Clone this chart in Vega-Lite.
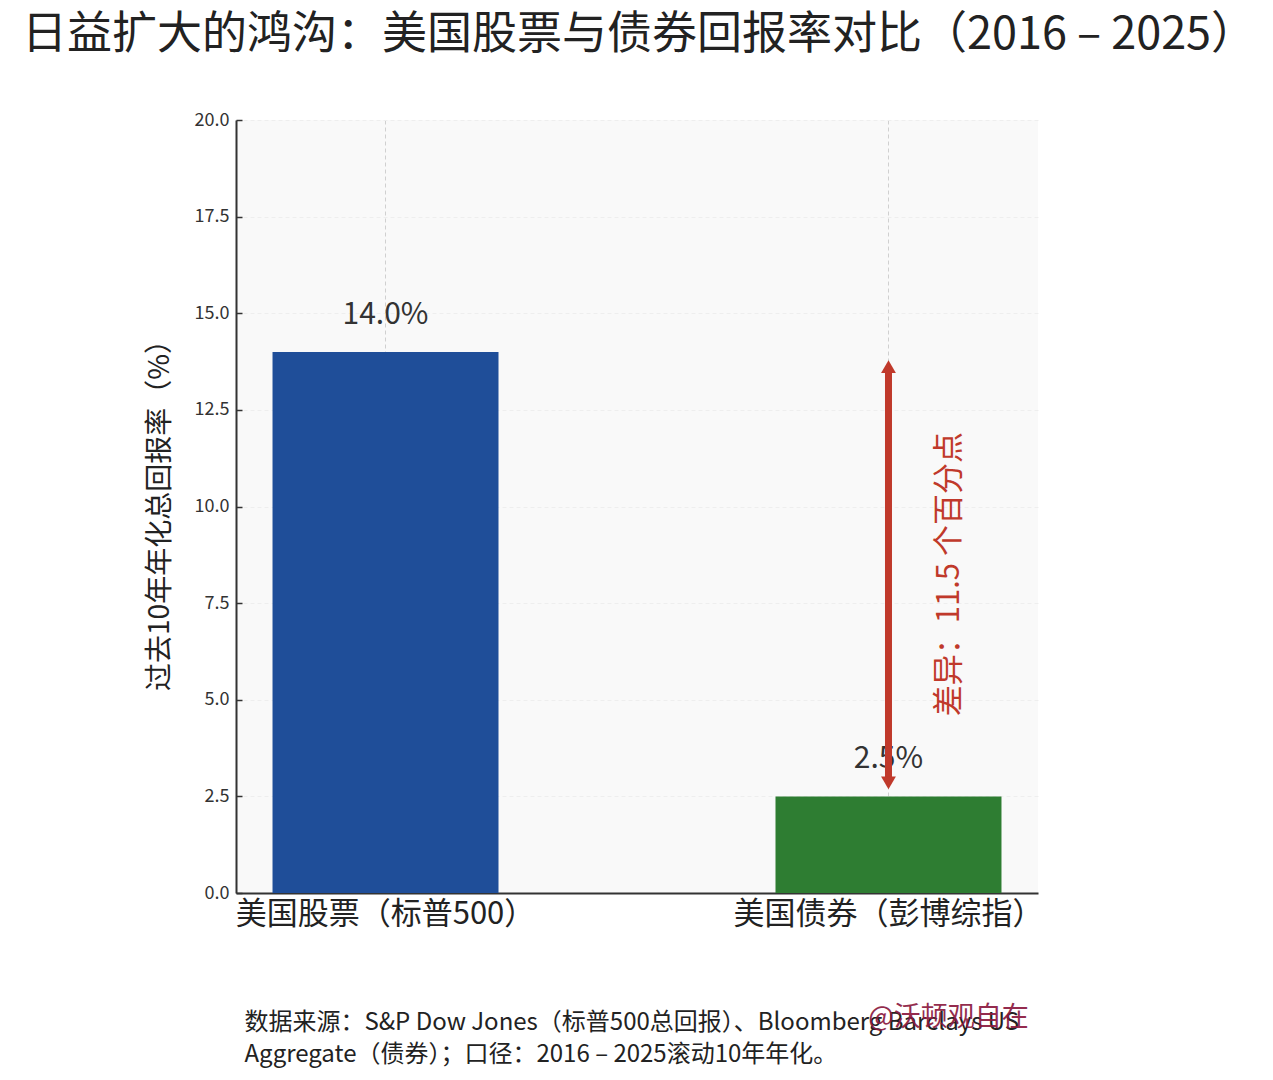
{
"$schema":"https://vega.github.io/schema/vega-lite/v6.json",
"width":802,"height":773,
"autosize":{"type":"none"},
"padding":{"left":236,"top":120,"right":235,"bottom":187},
"background":"#ffffff",
"view":{"fill":"#f9f9f9","stroke":null},
"config":{"font":"Noto Sans CJK SC"},
"title":{"text":"日益扩大的鸿沟：美国股票与债券回报率对比（2016 – 2025）","font":"Noto Sans CJK SC","fontSize":45,"fontWeight":"normal","color":"#222222","anchor":"start","frame":"group","dx":-214,"offset":53},
"datasets":{
"bars":[{"category":"美国股票（标普500）","value":14.0,"label":"14.0%"},{"category":"美国债券（彭博综指）","value":2.5,"label":"2.5%"}],
"arrow":[{"category":"美国债券（彭博综指）","start":13.5,"end":2.95}],
"heads":[{"category":"美国债券（彭博综指）","at":13.62,"dir":"up"},{"category":"美国债券（彭博综指）","at":2.85,"dir":"down"}],
"diff":[{"category":"美国债券（彭博综指）","at":8.25,"label":"差异：11.5 个百分点"}],
"mark":[{"category":"美国债券（彭博综指）","at":-3.23,"label":"@沃顿观自在"}]
},
"layer":[
{"data":{"name":"bars"},
 "mark":{"type":"bar"},
 "encoding":{
  "x":{"field":"category","type":"nominal","sort":null,
    "scale":{"domain":["美国股票（标普500）","美国债券（彭博综指）"],"paddingInner":0.5507,"paddingOuter":0.0726},
    "axis":{"title":["数据来源：S&P Dow Jones（标普500总回报）、Bloomberg Barclays US","Aggregate（债券）；口径：2016 – 2025滚动10年年化。"],
      "titleFont":"Noto Sans CJK SC","titleFontSize":24,"titleFontWeight":"normal","titleColor":"#222222","titleAlign":"left","titleAnchor":"start","titleBaseline":"middle","titleLineHeight":32,"titleX":8,"titleY":129,
      "labelAngle":0,"labelFontSize":31,"labelColor":"#222222","labelPadding":6,"labelOffset":0,"labelLimit":400,"ticks":false,
      "domainColor":"#333333","domainWidth":2,
      "grid":true,"gridColor":"#d0d0d0","gridDash":[4,3],"gridWidth":1}},
  "y":{"field":"value","type":"quantitative",
    "scale":{"domain":[0,20],"nice":false,"zero":true},
    "axis":{"title":"过去10年年化总回报率（%）","titleFontSize":28,"titleFontWeight":"normal","titleColor":"#222222","titleX":-62,"titleY":388,
      "values":[0,2.5,5,7.5,10,12.5,15,17.5,20],"format":".1f","labelFontSize":18,"labelColor":"#333333","labelPadding":13,
      "domainColor":"#333333","domainWidth":2,"tickColor":"#333333","tickSize":-6,"tickWidth":1.5,
      "grid":true,"gridColor":"#eeeeee","gridDash":[4,3],"gridWidth":1}},
  "color":{"field":"category","type":"nominal","legend":null,"scale":{"domain":["美国股票（标普500）","美国债券（彭博综指）"],"range":["#1f4e99","#2e7d32"]}}
 }},
{"data":{"name":"bars"},
 "mark":{"type":"text","baseline":"bottom","dy":-22,"fontSize":30,"color":"#333333"},
 "encoding":{"x":{"field":"category","type":"nominal"},"y":{"field":"value","type":"quantitative"},"text":{"field":"label"}}},
{"data":{"name":"arrow"},
 "mark":{"type":"rule","color":"#c0392b","strokeWidth":7},
 "encoding":{"x":{"field":"category","type":"nominal"},"y":{"field":"start","type":"quantitative"},"y2":{"field":"end"}}},
{"data":{"name":"heads"},
 "mark":{"type":"point","filled":true,"size":220,"opacity":1,"color":"#c0392b"},
 "encoding":{"x":{"field":"category","type":"nominal"},"y":{"field":"at","type":"quantitative"},
  "shape":{"field":"dir","type":"nominal","legend":null,"scale":{"domain":["up","down"],"range":["triangle-up","triangle-down"]}}}},
{"data":{"name":"diff"},
 "mark":{"type":"text","angle":270,"xOffset":62,"fontSize":31,"color":"#c0392b"},
 "encoding":{"x":{"field":"category","type":"nominal"},"y":{"field":"at","type":"quantitative"},"text":{"field":"label"}}},
{"data":{"name":"mark"},
 "mark":{"type":"text","xOffset":60,"fontSize":27,"color":"#8b1a3f","opacity":0.92},
 "encoding":{"x":{"field":"category","type":"nominal"},"y":{"field":"at","type":"quantitative"},"text":{"field":"label"}}}
]
}
